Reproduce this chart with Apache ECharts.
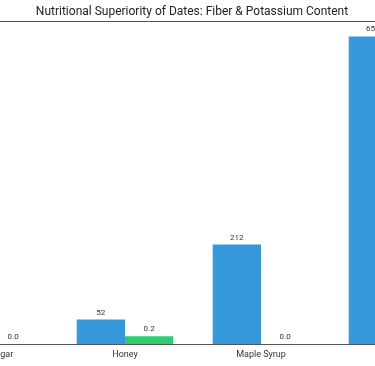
<!DOCTYPE html>
<html>
<head>
<meta charset="utf-8">
<script src="https://cdn.jsdelivr.net/npm/echarts@6/dist/echarts.min.js"></script>
<style>
html,body{margin:0;padding:0;width:375px;height:366px;overflow:hidden;background:#fff;}
#wrap{position:absolute;left:-150px;top:0;width:700px;height:366px;}
</style>
</head>
<body>
<div id="wrap"></div>
<script>
const titleText = 'Nutritional Superiority of Dates: Fiber & Potassium Content';
const categories = ['White Sugar', 'Honey', 'Maple Syrup', 'Dates'];
const potassiumMg = [2, 52, 212, 656];
const fiberG = [0.0, 0.2, 0.0, 8.0];

const chart = echarts.init(document.getElementById('wrap'), null, {renderer: 'canvas'});
chart.setOption({
  animation: false,
  backgroundColor: '#ffffff',
  title: {
    text: titleText,
    left: 337, top: 1, textAlign: 'center',
    textStyle: {fontFamily: 'Roboto', fontSize: 12, fontWeight: 'normal', color: '#222'}
  },
  grid: {left: 71, right: 85, top: 21, bottom: 22, containLabel: false},
  xAxis: [{
    type: 'category', data: categories, position: 'bottom',
    axisLine: {onZero: false, lineStyle: {color: '#555', width: 1}},
    axisTick: {alignWithLabel: true, length: 3, lineStyle: {color: '#555'}},
    axisLabel: {fontFamily: 'Roboto', fontSize: 9, color: '#333', margin: 6}
  }, {
    type: 'category', data: categories, position: 'top',
    axisLine: {show: true, onZero: false, lineStyle: {color: '#555', width: 1}},
    axisTick: {show: false}, axisLabel: {show: false}
  }],
  yAxis: [{
    type: 'value', min: 0, max: v => v.max * 1.05,
    axisLine: {show: false}, axisTick: {show: false}, axisLabel: {show: false},
    splitLine: {show: false}
  }, {
    type: 'value', min: 0, max: v => v.max * 1.05,
    axisLine: {show: false}, axisTick: {show: false}, axisLabel: {show: false},
    splitLine: {show: false}
  }],
  series: [{
    name: 'Potassium (mg)', type: 'bar', data: potassiumMg, yAxisIndex: 0,
    barGap: '0%', barCategoryGap: '29%',
    itemStyle: {color: '#3498db'},
    label: {show: true, position: 'top', fontFamily: 'Roboto', fontSize: 8, color: '#333', distance: 3,
      formatter: p => String(Math.round(p.value))}
  }, {
    name: 'Fiber (g)', type: 'bar', data: fiberG, yAxisIndex: 1,
    barGap: '0%', barCategoryGap: '29%',
    itemStyle: {color: '#2ecc71'},
    label: {show: true, position: 'top', fontFamily: 'Roboto', fontSize: 8, color: '#333', distance: 3,
      formatter: p => p.value.toFixed(1)}
  }]
});
</script>
</body>
</html>
